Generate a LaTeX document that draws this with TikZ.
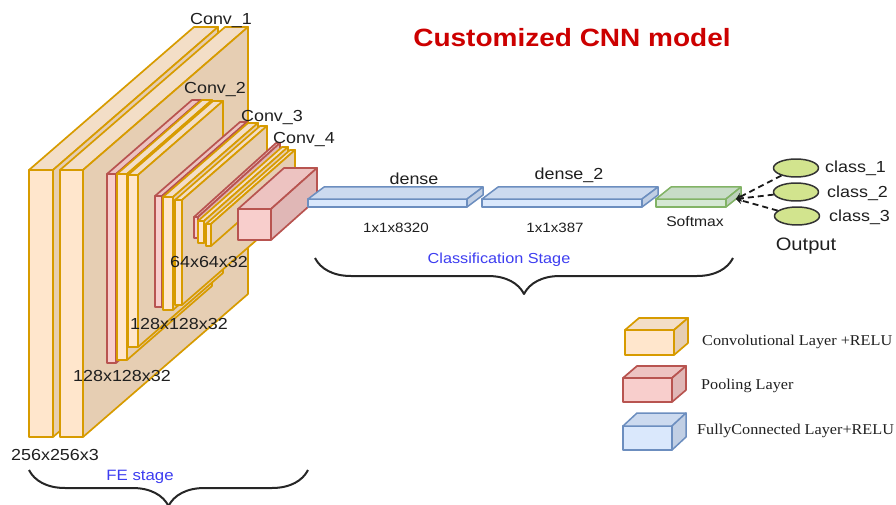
\documentclass[tikz,border=0pt]{standalone}
\usepackage{fontspec}
\setmainfont{Liberation Sans}[FakeStretch=1.12]
\newfontfamily\legendfont{Liberation Serif}[FakeStretch=1.08]
\usetikzlibrary{arrows.meta,shapes.geometric,decorations.pathreplacing}

\definecolor{convfront}{HTML}{FFE6CC}
\definecolor{convtop}{HTML}{F3DEC7}
\definecolor{convside}{HTML}{E6CEB3}
\definecolor{convline}{HTML}{D79B00}
\definecolor{poolfront}{HTML}{F8CECC}
\definecolor{pooltop}{HTML}{EDC3C1}
\definecolor{poolside}{HTML}{E0B7B6}
\definecolor{poolline}{HTML}{B85450}
\definecolor{fcfront}{HTML}{DAE8FC}
\definecolor{fctop}{HTML}{CCDAEF}
\definecolor{fcside}{HTML}{C1CFE4}
\definecolor{fcline}{HTML}{6C8EBF}
\definecolor{smfront}{HTML}{D5E8D4}
\definecolor{smtop}{HTML}{C8DCC7}
\definecolor{smside}{HTML}{BDD1BC}
\definecolor{smline}{HTML}{82B366}
\definecolor{outfill}{HTML}{D2E48E}
\definecolor{titlered}{HTML}{CC0000}
\definecolor{stageblue}{HTML}{3D3DF0}

% #1 layer kind, #2-#5 front face corners, #6-#7 depth offset
\newcommand{\layerbox}[7]{%
  \draw[#1, fill=#1front] (#2,#3) rectangle (#4,#5);
  \draw[#1, fill=#1top] (#2,#3) -- ++(#6,#7) -- ++({#4-#2},0) -- (#4,#3) -- cycle;
  \draw[#1, fill=#1side] (#4,#3) -- ++(#6,#7) -- ++(0,{#5-#3}) -- (#4,#5) -- cycle;
}

\begin{document}
\begin{tikzpicture}[
  x=1pt, y=-1pt,
  line join=round,
  conv/.style={draw=convline, line width=1.7pt},
  pool/.style={draw=poolline, line width=1.7pt},
  fc/.style={draw=fcline, line width=1.5pt},
  sm/.style={draw=smline, line width=1.5pt},
  lbl/.style={font=\fontsize{16}{18}\selectfont, text=black!88, inner sep=0pt, anchor=base},
  small/.style={lbl, font=\fontsize{13.5}{16}\selectfont},
  stage/.style={lbl, font=\fontsize{14.5}{17}\selectfont, text=stageblue},
  legend/.style={inner sep=0pt, anchor=base west, text=black!88, font=\legendfont\fontsize{15}{17}\selectfont},
  outnode/.style={ellipse, draw=black!80, line width=1.5pt, fill=outfill, minimum width=45pt, minimum height=18pt, inner sep=0pt},
  vote/.style={-{Stealth[length=6pt,width=7pt]}, dashed, dash pattern=on 6pt off 4pt, line width=1.8pt, draw=black!90},
  stagebrace/.style={decorate, decoration={brace, amplitude=36pt}, line width=2pt, draw=black!85}
]
\useasboundingbox (0,0) rectangle (896,505);

\def\dxc{85}
\def\dyc{-74}

% Conv_1
\layerbox{conv}{29}{170}{53}{437}{165}{-143}
\layerbox{conv}{60}{170}{83}{437}{165}{-143}

% Conv_2
\layerbox{pool}{107}{174}{116}{363}{\dxc}{\dyc}
\layerbox{conv}{117}{174}{127}{360}{\dxc}{\dyc}
\layerbox{conv}{128}{175}{138}{347}{\dxc}{\dyc}

% Conv_3
\layerbox{pool}{155}{196}{162}{307}{\dxc}{\dyc}
\layerbox{conv}{163}{197}{173}{310}{\dxc}{\dyc}
\layerbox{conv}{175}{200}{182}{305}{\dxc}{\dyc}

% Conv_4
\layerbox{pool}{194}{217}{198}{238}{82}{-74}
\layerbox{conv}{198}{221}{204}{243}{84}{-74}
\layerbox{conv}{206}{224}{211}{246}{84}{-74}

% last pooling and classifier
\layerbox{pool}{238}{209}{271}{240}{46}{-41}
\layerbox{fc}{308}{199}{467}{207}{16}{-12}
\layerbox{fc}{482}{199}{642}{207}{16}{-12}
\layerbox{sm}{656}{199}{726}{207}{15}{-12}
\coordinate (smx) at (736,199);

% Legend boxes
\layerbox{conv}{625}{330}{674}{355}{14}{-12}
\layerbox{pool}{623}{378}{672}{402}{14}{-12}
\layerbox{fc}{623}{426}{672}{450}{14}{-13}

% Labels
\node[lbl, font=\bfseries\fontsize{25}{28}\selectfont, text=titlered] (title) at (572,47) {Customized CNN model};
\node[lbl] (conv1lbl) at (221,25) {Conv\_1};
\node[lbl] (conv2lbl) at (215,94) {Conv\_2};
\node[lbl] (conv3lbl) at (272,122) {Conv\_3};
\node[lbl] (conv4lbl) at (304,144) {Conv\_4};
\node[lbl] (dim256) at (55,460) {256x256x3};
\node[lbl] (dim128a) at (122,381) {128x128x32};
\node[lbl] (dim128b) at (179,329) {128x128x32};
\node[lbl] (dim64) at (209,267) {64x64x32};
\node[lbl] (denselbl) at (414,185) {dense};
\node[lbl] (dense2lbl) at (569,179) {dense\_2};
\node[small] (size8320) at (396,232) {1x1x8320};
\node[small] (size387) at (555,232) {1x1x387};
\node[small, font=\fontsize{14}{16}\selectfont] (smlbl) at (695,226) {Softmax};
\node[stage] (clsstage) at (499,263) {Classification Stage};
\node[stage, font=\fontsize{15}{17}\selectfont] (festage) at (140,480) {FE stage};

% Output classes
\node[outnode] (c1) at (796,168) {};
\node[outnode] (c2) at (796,192) {};
\node[outnode] (c3) at (797,216) {};
\node[lbl, anchor=base west] (c1lbl) at (825,173) {class\_1};
\node[lbl, anchor=base west] (c2lbl) at (827,197) {class\_2};
\node[lbl, anchor=base west] (c3lbl) at (829,221) {class\_3};
\node[lbl, font=\fontsize{18}{20}\selectfont] (outlbl) at (806,250) {Output};
\draw[vote] (c1) -- (smx);
\draw[vote] (c2) -- (smx);
\draw[vote] (c3) -- (smx);

% Stage braces
\draw[stagebrace] (308,470) -- (29,470);
\draw[stagebrace] (733,258) -- (315,258);

% Legend text
\node[legend] (convleg) at (702,345) {Convolutional Layer +RELU};
\node[legend] (poolleg) at (701,389) {Pooling Layer};
\node[legend] (fcleg) at (697,434) {FullyConnected Layer+RELU};

\end{tikzpicture}
\end{document}
